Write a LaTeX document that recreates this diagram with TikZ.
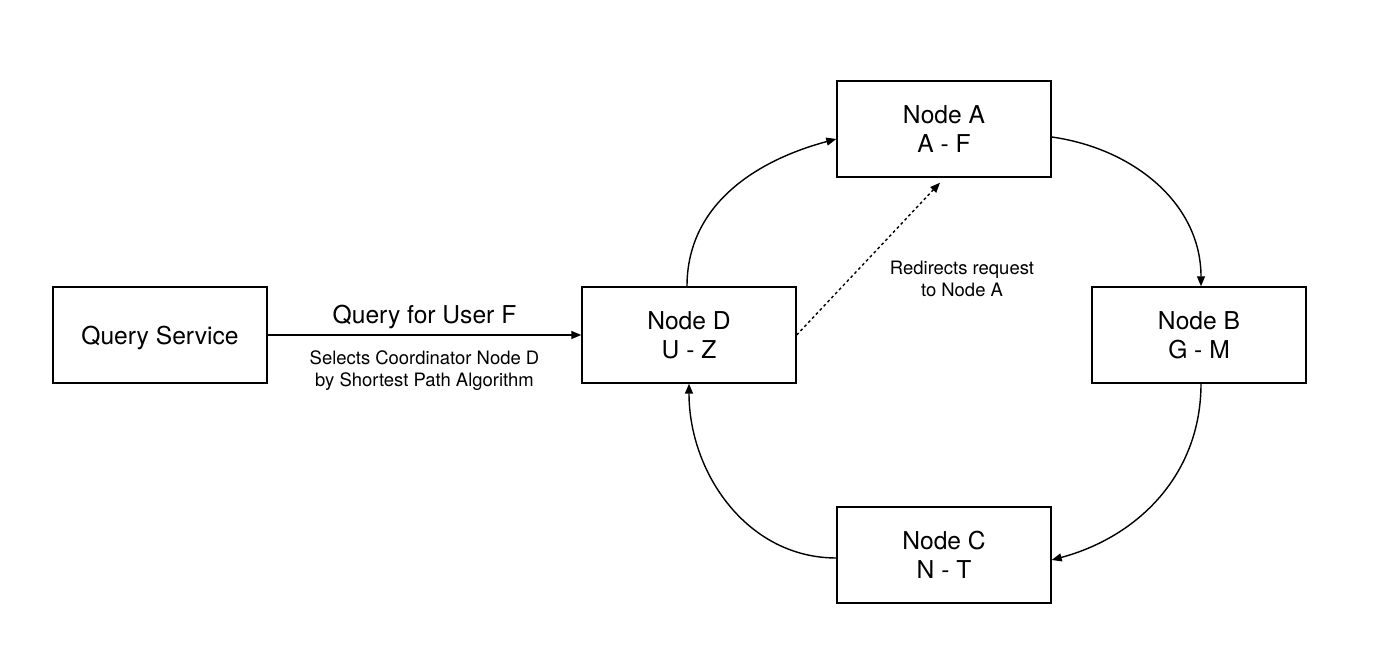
\documentclass[tikz,border=0pt]{standalone}
\usepackage{fontspec}
\setmainfont{TeX Gyre Heros}
\usetikzlibrary{arrows.meta}

\begin{document}
\begin{tikzpicture}[>={Triangle[length=2mm,width=1.6mm]},
  box/.style={shape=rectangle,draw,line width=0.8pt,minimum width=4.28cm,minimum height=1.92cm,
    align=center,font=\fontsize{14}{16.5}\selectfont},
  small/.style={align=center,font=\fontsize{10.5}{12.5}\selectfont},
  link/.style={->,line width=0.8pt}]
\useasboundingbox (0,0) rectangle (28,13.34);
\node (qs) at (3.2,6.64)   [box,text depth=0pt] {Query Service};
\node  (d) at (13.78,6.64) [box] {Node D\\U - Z};
\node  (a) at (18.88,10.76) [box] {Node A\\A - F};
\node  (b) at (23.98,6.64) [box] {Node B\\G - M};
\node  (c) at (18.88,2.24) [box] {Node C\\N - T};
\node (redir) at (19.24,7.76) [small] {Redirects request\\to Node A};
\draw [link] (qs) -- (d)
  node [midway,above=0pt,font=\fontsize{14}{16.5}\selectfont] {Query for User F}
  node [midway,below=5pt,small] {Selects Coordinator Node D\\by Shortest Path Algorithm};
\draw [link] ([xshift=-0.04cm]d.north) to [out=90,in=195] ([yshift=-0.2cm]a.west);
\draw [link] ([yshift=-0.16cm]a.east) to [out=-8,in=90] ([xshift=0.04cm]b.north);
\draw [link] ([xshift=0.04cm]b.south) to [out=-90,in=15] ([yshift=-0.1cm]c.east);
\draw [link] ([yshift=-0.06cm]c.west) to [out=180,in=-90] (d.south);
\draw [link,dash pattern=on 1.6pt off 1.6pt] (d.east) -- ([xshift=-0.08cm,yshift=-0.1cm]a.south);
\end{tikzpicture}
\end{document}
